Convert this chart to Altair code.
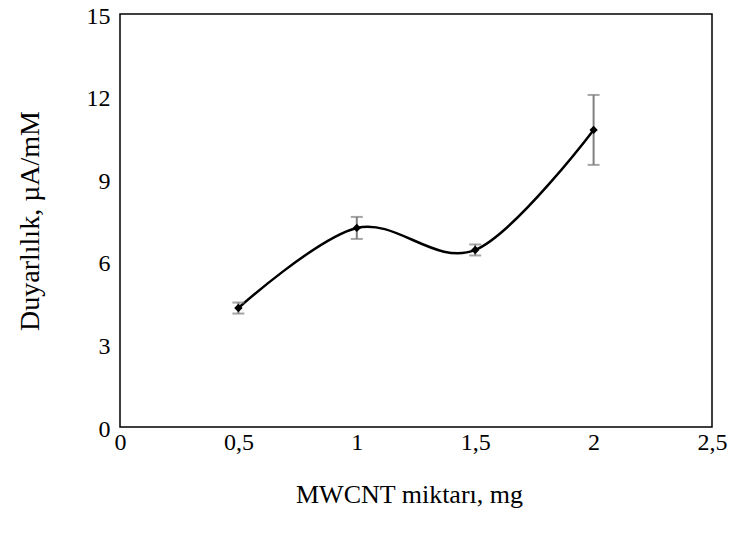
import altair as alt
import pandas as pd

mwcnt = [0.5, 1.0, 1.5, 2.0]
sensitivity = [4.32, 7.23, 6.43, 10.79]
err = [0.2, 0.4, 0.2, 1.27]

df = pd.DataFrame({"x": mwcnt, "y": sensitivity, "e": err})
df["lo"] = df["y"] - df["e"]
df["hi"] = df["y"] + df["e"]

font = "Liberation Serif"
x_ticks = [0, 0.5, 1, 1.5, 2, 2.5]
y_ticks = [0, 3, 6, 9, 12, 15]

xs = alt.Scale(domain=[0, 2.5], nice=False, zero=False)
ys = alt.Scale(domain=[0, 15], nice=False)

xenc = alt.X("x:Q", scale=xs, axis=alt.Axis(
    values=x_ticks, title="MWCNT miktarı, mg",
    labelExpr="replace(toString(datum.value), '.', ',')",
    labelFlush=False, labelPadding=3, titlePadding=27, titleX=289, titleFontSize=26))
yenc = alt.Y("y:Q", scale=ys, axis=alt.Axis(
    values=y_ticks, title="Duyarlılık, µA/mM",
    labelFlush=False, labelPadding=10, labelOffset=2, titlePadding=42, titleFontSize=28))

base = alt.Chart(df)

line = base.mark_line(interpolate="cardinal", color="black", strokeWidth=2.5).encode(x=xenc, y=yenc)
bars = base.mark_rule(color="#7f7f7f", strokeWidth=2).encode(x="x:Q", y="lo:Q", y2="hi:Q")
cap_lo = base.mark_tick(color="#7f7f7f", orient="horizontal", size=12, thickness=2).encode(x="x:Q", y="lo:Q")
cap_hi = base.mark_tick(color="#7f7f7f", orient="horizontal", size=12, thickness=2).encode(x="x:Q", y="hi:Q")
pts = base.mark_point(shape="diamond", filled=True, color="black", size=70, opacity=1).encode(x="x:Q", y="y:Q")

chart = alt.layer(line, bars, cap_lo, cap_hi, pts).properties(
    width=592, height=413,
    autosize=alt.AutoSizeParams(type="none"),
    padding={"left": 120, "top": 14, "right": 18, "bottom": 115},
).configure(background="white", font=font).configure_view(
    stroke="black", strokeWidth=1.5
).configure_axis(
    grid=False, ticks=False, domain=False,
    labelFont=font, labelFontSize=24, labelColor="black",
    titleFont=font, titleFontWeight="normal", titleColor="black",
)

chart.save("out.html", embed_options={"renderer": "svg", "actions": False})
